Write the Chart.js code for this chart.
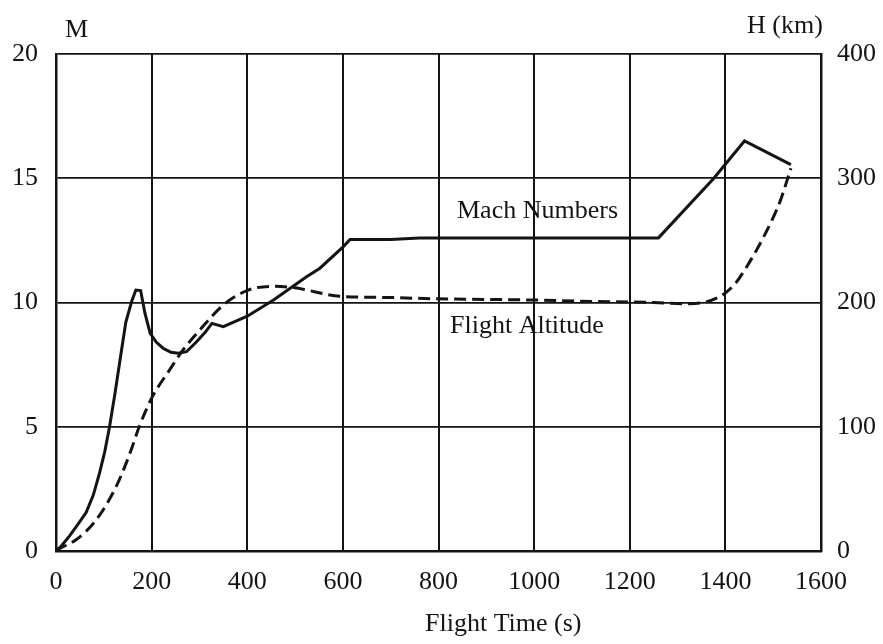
<!DOCTYPE html>
<html>
<head>
<meta charset="utf-8">
<script src="https://cdn.jsdelivr.net/npm/chart.js@4/dist/chart.umd.min.js"></script>
<style>
html,body{margin:0;padding:0;background:#fff;}
#wrap{width:883px;height:644px;position:relative;}
</style>
</head>
<body>
<div id="wrap"><canvas id="c" width="883" height="644"></canvas></div>
<script>
// Flight time (s) and Mach number
const machTime = [0, 12, 28, 45, 63, 78, 91, 102, 112, 123, 134, 146, 158, 167, 177, 186, 197, 210, 224, 240, 256, 273, 294, 312, 326, 350, 400, 455, 524, 552, 601, 615, 700, 760, 1000, 1260, 1375, 1440, 1537];
const machValues = [0, 0.22, 0.6, 1.05, 1.55, 2.25, 3.13, 4.0, 5.0, 6.3, 7.7, 9.2, 10.03, 10.5, 10.48, 9.57, 8.76, 8.4, 8.16, 8.0, 7.96, 8.02, 8.42, 8.8, 9.16, 9.03, 9.45, 10.1, 11.04, 11.38, 12.25, 12.54, 12.54, 12.6, 12.6, 12.6, 14.98, 16.5, 15.55];
// Flight time (s) and flight altitude (km)
const altTime = [0, 8, 42, 84, 126, 155, 174, 200, 238, 266, 301, 350, 402, 455, 496, 594, 700, 789, 998, 1096, 1250, 1326, 1389, 1420, 1445, 1487, 1515, 1537];
const altValues = [0, 2, 9, 25, 52, 79, 100, 123, 146, 162, 178, 198, 210, 213, 212, 205, 204, 203, 202, 201, 200, 199, 205, 215, 229, 258, 282, 308];
// Tick labels
const xTicks = [0, 200, 400, 600, 800, 1000, 1200, 1400, 1600];
const mTicks = [0, 5, 10, 15, 20];
const hTicks = [0, 100, 200, 300, 400];

const FONT = "'Liberation Serif', 'Times New Roman', serif";
const INK = '#141414';

const machPts = machTime.map((t, i) => ({x: t, y: machValues[i]}));
const altPts = altTime.map((t, i) => ({x: t, y: altValues[i]}));

const textPlugin = {
  id: 'texts',
  afterDraw(chart) {
    const ctx = chart.ctx;
    ctx.save();
    ctx.fillStyle = INK;
    ctx.textBaseline = 'alphabetic';
    ctx.font = '26px ' + FONT;
    ctx.textAlign = 'left';
    ctx.fillText('M', 65, 37);
    ctx.fillText('H (km)', 747, 33);
    ctx.fillText('Mach Numbers', 457, 218);
    ctx.fillText('Flight Altitude', 450, 333);
    ctx.fillText('Flight Time (s)', 425, 631);
    ctx.restore();
  }
};

const bgPlugin = {
  id: 'bg',
  beforeDraw(chart) {
    const ctx = chart.ctx;
    ctx.save();
    ctx.fillStyle = '#fff';
    ctx.fillRect(0, 0, chart.width, chart.height);
    ctx.restore();
  }
};

const plain = (v) => String(v);

new Chart(document.getElementById('c'), {
  type: 'line',
  data: {
    datasets: [
      {
        label: 'Mach Numbers',
        data: machPts,
        yAxisID: 'y',
        borderColor: INK,
        borderWidth: 3,
        pointRadius: 0,
        tension: 0,
        fill: false
      },
      {
        label: 'Flight Altitude',
        data: altPts,
        yAxisID: 'y1',
        borderColor: INK,
        borderWidth: 3,
        borderDash: [12, 6],
        pointRadius: 0,
        cubicInterpolationMode: 'monotone',
        fill: false
      }
    ]
  },
  options: {
    responsive: false,
    animation: false,
    devicePixelRatio: 1,
    layout: {padding: {top: 54, left: 0, right: 0, bottom: 0}},
    plugins: {legend: {display: false}, tooltip: {enabled: false}, title: {display: false}},
    scales: {
      x: {
        type: 'linear',
        min: 0, max: 1600,
        afterBuildTicks: (s) => { s.ticks = xTicks.map(v => ({value: v})); },
        ticks: {color: INK, font: {family: FONT, size: 26}, padding: 16, maxRotation: 0, autoSkip: false, callback: plain},
        grid: {color: INK, lineWidth: 2, drawTicks: false},
        border: {color: INK, width: 2.5},
        afterFit: (s) => { s.height = 93; }
      },
      y: {
        type: 'linear', position: 'left',
        min: 0, max: 20,
        afterBuildTicks: (s) => { s.ticks = mTicks.map(v => ({value: v})); },
        ticks: {color: INK, font: {family: FONT, size: 26}, padding: 18, callback: plain},
        grid: {color: INK, lineWidth: 1.8, drawTicks: false},
        border: {color: INK, width: 2.5},
        afterFit: (s) => { s.width = 56; }
      },
      y1: {
        type: 'linear', position: 'right',
        min: 0, max: 400,
        afterBuildTicks: (s) => { s.ticks = hTicks.map(v => ({value: v})); },
        ticks: {color: INK, font: {family: FONT, size: 26}, padding: 16, callback: plain},
        grid: {drawOnChartArea: false, drawTicks: false},
        border: {color: INK, width: 2.5},
        afterFit: (s) => { s.width = 62; }
      }
    }
  },
  plugins: [bgPlugin, textPlugin]
});
</script>
</body>
</html>
